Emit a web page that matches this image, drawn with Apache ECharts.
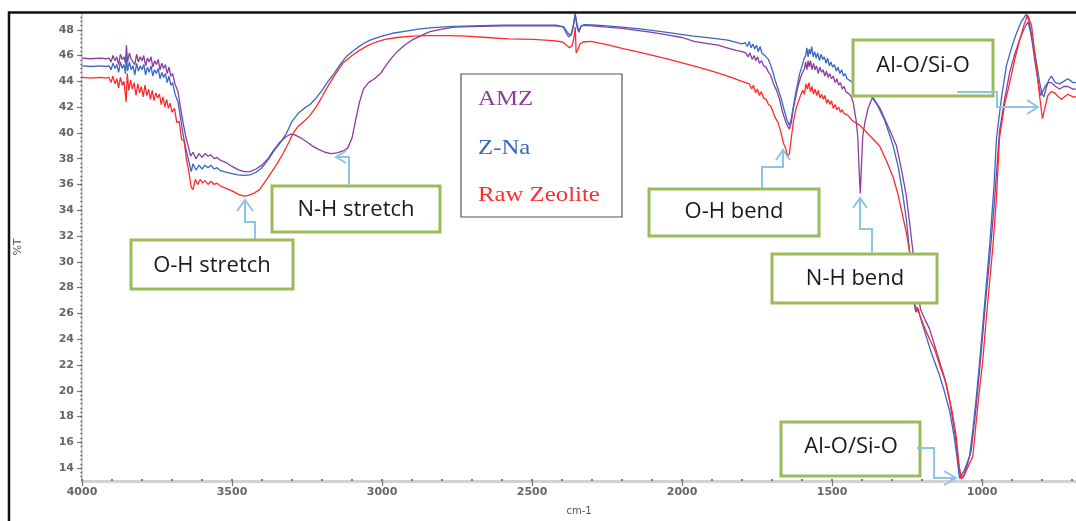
<!DOCTYPE html>
<html>
<head>
<meta charset="utf-8">
<script src="https://cdn.jsdelivr.net/npm/echarts@6/dist/echarts.min.js"></script>
<style>
html,body{margin:0;padding:0;background:#fff;}
#chart{width:1076px;height:521px;}
</style>
</head>
<body>
<div id="chart"></div>
<script>
// ---- data (wavenumber cm-1, %T) ----
const seriesNames = ['AMZ', 'Z-Na', 'Raw Zeolite'];
const xTickLabels = [1000, 1500, 2000, 2500, 3000, 3500, 4000];
const yTickLabels = [14,16,18,20,22,24,26,28,30,32,34,36,38,40,42,44,46,48];

const amzData = [
[4000,45.8],[3970,45.75],[3940,45.8],[3920,45.75],[3910,45.8],[3903,45.5],[3897,46.0],[3890,45.6],[3884,45.9],[3878,45.3],[3872,46.1],[3866,45.7],[3860,45.9],[3855,45.4],[3852,46.8],[3848,45.5],[3842,46.2],[3836,45.7],[3830,45.8],[3824,45.3],[3818,46.1],[3812,45.5],[3806,45.9],[3800,45.6],[3794,46.0],[3788,45.2],[3782,45.8],[3776,45.5],[3770,45.9],[3764,45.1],[3758,45.6],[3752,45.3],[3746,45.7],[3740,44.9],[3734,45.4],[3728,45.0],[3722,45.3],[3716,44.6],[3710,45.1],[3704,44.4],[3698,44.6],[3690,43.8],[3680,43.2],[3672,42.0],[3664,40.9],[3655,39.8],[3645,38.9],[3638,38.2],[3630,38.5],[3620,38.0],[3610,38.4],[3600,38.1],[3590,38.4],[3580,38.2],[3570,38.3],[3560,38.0],[3550,38.1],[3540,37.9],[3520,37.7],[3500,37.4],[3480,37.15],[3460,37.0],[3440,37.0],[3420,37.2],[3400,37.5],[3380,38.0],[3360,38.7],[3340,39.3],[3320,39.7],[3305,39.9],[3290,39.85],[3270,39.6],[3250,39.3],[3230,38.95],[3210,38.7],[3190,38.5],[3170,38.4],[3150,38.45],[3130,38.6],[3115,38.8],[3100,39.6],[3088,41.0],[3075,42.4],[3062,43.4],[3045,43.9],[3025,44.2],[3005,44.6],[2985,45.3],[2965,45.9],[2945,46.4],[2925,46.8],[2900,47.2],[2870,47.55],[2840,47.85],[2800,48.05],[2760,48.2],[2700,48.25],[2600,48.3],[2500,48.32],[2420,48.3],[2395,48.25],[2385,47.9],[2375,47.6],[2368,47.7],[2362,48.3],[2356,49.2],[2350,48.4],[2344,47.9],[2336,48.3],[2325,48.35],[2300,48.3],[2250,48.2],[2200,48.1],[2150,47.95],[2100,47.8],[2050,47.6],[2000,47.4],[1960,47.1],[1920,46.95],[1880,46.8],[1850,46.6],[1820,46.4],[1800,46.3],[1788,46.2],[1780,45.9],[1774,46.2],[1766,45.7],[1760,46.0],[1754,45.6],[1748,45.9],[1742,45.4],[1735,45.6],[1728,45.2],[1720,45.1],[1712,44.7],[1705,44.5],[1695,43.8],[1685,43.3],[1675,42.6],[1665,41.6],[1655,40.9],[1648,40.5],[1642,40.3],[1636,40.8],[1630,41.8],[1622,42.7],[1615,43.5],[1605,44.3],[1598,44.7],[1592,45.0],[1588,45.5],[1584,44.9],[1580,45.6],[1576,45.1],[1572,45.6],[1567,44.9],[1562,45.4],[1557,44.9],[1552,45.2],[1546,44.6],[1541,45.1],[1535,44.7],[1530,44.9],[1524,44.4],[1519,44.8],[1513,44.3],[1508,44.6],[1502,44.2],[1496,44.4],[1490,43.9],[1484,44.2],[1478,43.7],[1472,43.9],[1466,43.4],[1460,43.6],[1454,43.2],[1448,43.3],[1442,43.0],[1436,42.8],[1430,42.4],[1420,41.0],[1414,39.6],[1410,37.2],[1406,35.3],[1402,37.5],[1398,39.7],[1390,40.9],[1380,41.9],[1370,42.5],[1364,42.75],[1340,41.9],[1315,40.6],[1286,39.05],[1270,37.3],[1253,35.2],[1242,33.1],[1231,30.9],[1222,28.5],[1214,26.8],[1210,27.0],[1205,26.3],[1190,25.5],[1175,24.8],[1150,22.9],[1125,21.0],[1108,19.2],[1092,16.9],[1082,15.0],[1075,13.7],[1071,13.2],[1060,13.5],[1050,14.2],[1036,15.4],[1020,18.7],[1003,23.0],[990,26.5],[975,30.2],[960,34.3],[942,40.1],[925,42.6],[908,44.7],[890,46.2],[875,47.2],[860,48.1],[847,48.6],[840,48.0],[832,46.9],[825,45.7],[815,44.2],[805,42.9],[798,43.2],[790,43.6],[780,43.9],[769,43.9],[755,43.6],[742,43.4],[728,43.6],[714,43.6],[697,43.4],[687,43.4]
];

const znaData = [
[4000,45.2],[3970,45.15],[3940,45.2],[3920,45.15],[3910,45.2],[3903,44.9],[3897,45.4],[3890,45.0],[3884,45.3],[3878,44.7],[3872,45.5],[3866,45.0],[3860,45.3],[3855,44.6],[3852,46.0],[3848,44.8],[3842,45.5],[3836,44.9],[3830,45.2],[3824,44.5],[3818,45.4],[3812,44.8],[3806,45.2],[3800,44.9],[3794,45.3],[3788,44.5],[3782,45.1],[3776,44.7],[3770,45.2],[3764,44.4],[3758,44.9],[3752,44.6],[3746,45.0],[3740,44.2],[3734,44.7],[3728,44.3],[3722,44.6],[3716,43.9],[3710,44.4],[3704,43.7],[3698,43.9],[3690,43.0],[3680,42.4],[3672,41.2],[3664,40.0],[3655,38.9],[3645,37.9],[3636,37.0],[3630,37.6],[3620,37.1],[3610,37.5],[3600,37.2],[3590,37.5],[3580,37.3],[3570,37.5],[3560,37.2],[3550,37.3],[3540,37.1],[3520,36.95],[3500,36.85],[3480,36.75],[3460,36.7],[3440,36.75],[3420,36.95],[3400,37.3],[3380,37.9],[3360,38.6],[3340,39.2],[3320,39.9],[3300,40.9],[3280,41.5],[3260,41.9],[3240,42.2],[3220,42.7],[3200,43.3],[3180,44.0],[3160,44.6],[3140,45.3],[3120,45.9],[3100,46.3],[3080,46.65],[3060,46.95],[3040,47.2],[3000,47.5],[2960,47.75],[2920,47.9],[2880,48.05],[2840,48.15],[2780,48.25],[2700,48.3],[2600,48.35],[2500,48.35],[2420,48.35],[2395,48.2],[2385,47.7],[2378,47.45],[2370,47.6],[2362,48.4],[2356,49.25],[2350,48.2],[2344,47.8],[2336,48.3],[2325,48.4],[2300,48.37],[2250,48.3],[2200,48.2],[2133,48.05],[2050,47.8],[1962,47.5],[1900,47.35],[1848,47.2],[1800,46.9],[1790,47.0],[1782,46.7],[1776,47.1],[1770,46.6],[1764,46.9],[1758,46.5],[1752,46.8],[1746,46.3],[1740,46.7],[1734,46.2],[1728,46.3],[1720,45.9],[1712,45.7],[1704,45.2],[1698,44.8],[1690,44.1],[1680,43.4],[1670,42.7],[1660,41.8],[1650,41.0],[1643,40.6],[1637,41.0],[1630,41.9],[1622,43.0],[1615,43.8],[1608,44.6],[1600,45.2],[1594,45.7],[1588,46.0],[1584,46.6],[1580,45.9],[1576,46.5],[1572,46.1],[1568,46.7],[1563,45.9],[1558,46.3],[1553,45.8],[1548,46.2],[1542,45.6],[1537,46.1],[1531,45.7],[1526,45.9],[1520,45.4],[1515,45.8],[1509,45.2],[1504,45.5],[1498,45.1],[1492,45.3],[1486,44.8],[1480,45.1],[1474,44.6],[1468,44.9],[1462,44.4],[1456,44.6],[1450,44.2],[1444,44.3],[1430,43.9],[1410,43.6],[1390,43.3],[1375,43.0],[1350,42.2],[1325,41.0],[1297,39.05],[1280,37.4],[1264,35.2],[1252,33.2],[1242,30.9],[1233,28.6],[1225,26.6],[1221,26.1],[1217,26.5],[1212,26.2],[1198,25.1],[1170,23.0],[1142,21.2],[1125,19.9],[1108,18.4],[1092,16.3],[1083,14.7],[1078,13.7],[1075,13.2],[1070,13.3],[1060,13.8],[1050,14.4],[1042,14.9],[1030,17.1],[1018,19.8],[1008,22.3],[992,26.6],[975,31.2],[960,36.0],[952,39.6],[935,42.8],[919,45.2],[902,46.6],[886,47.7],[870,48.6],[853,49.2],[845,48.8],[838,48.0],[832,47.2],[820,45.6],[808,43.9],[800,43.0],[794,42.8],[786,43.5],[778,44.1],[769,44.4],[756,43.9],[742,43.8],[728,44.0],[714,44.2],[697,43.9],[687,43.9]
];

const rawData = [
[4000,44.3],[3970,44.25],[3940,44.3],[3920,44.25],[3910,44.3],[3903,43.9],[3897,44.4],[3890,43.8],[3884,44.2],[3878,43.5],[3872,44.3],[3866,43.7],[3860,44.0],[3856,43.1],[3853,42.4],[3849,44.6],[3844,43.3],[3838,44.1],[3832,43.4],[3826,43.9],[3820,42.9],[3814,43.8],[3808,43.1],[3802,43.6],[3796,42.8],[3790,43.7],[3784,42.9],[3778,43.4],[3772,42.6],[3766,43.3],[3760,42.5],[3754,43.1],[3748,42.7],[3742,43.0],[3736,42.2],[3730,42.8],[3724,42.0],[3718,42.6],[3712,41.9],[3706,42.3],[3700,41.6],[3692,41.9],[3684,40.8],[3676,40.9],[3668,39.5],[3660,39.4],[3652,38.0],[3644,37.0],[3636,35.8],[3630,35.6],[3622,36.4],[3614,36.0],[3606,36.4],[3598,36.1],[3590,36.3],[3580,36.0],[3570,36.25],[3560,36.0],[3550,36.1],[3540,35.9],[3520,35.7],[3500,35.5],[3480,35.25],[3460,35.1],[3445,35.15],[3425,35.35],[3408,35.6],[3390,36.2],[3370,36.9],[3350,37.6],[3330,38.4],[3310,39.3],[3298,39.9],[3280,40.5],[3260,40.9],[3242,41.3],[3220,42.0],[3200,42.8],[3186,43.4],[3160,44.4],[3131,45.4],[3100,46.0],[3075,46.4],[3050,46.75],[3020,47.05],[2990,47.25],[2950,47.4],[2900,47.5],[2850,47.55],[2780,47.55],[2720,47.5],[2650,47.4],[2580,47.3],[2497,47.25],[2430,47.15],[2398,47.05],[2385,46.8],[2375,46.6],[2366,46.8],[2360,47.4],[2356,48.2],[2353,46.2],[2348,46.4],[2340,46.9],[2330,47.05],[2304,47.1],[2250,46.85],[2200,46.55],[2133,46.2],[2050,45.75],[1962,45.2],[1900,44.8],[1848,44.4],[1800,44.0],[1776,43.8],[1768,43.4],[1762,43.7],[1755,43.1],[1749,43.4],[1742,42.9],[1736,43.2],[1728,42.7],[1720,42.6],[1712,42.2],[1705,42.1],[1698,41.7],[1690,41.2],[1680,40.8],[1670,40.0],[1662,39.2],[1655,38.8],[1648,38.2],[1642,38.4],[1636,39.6],[1628,41.0],[1620,41.9],[1610,42.6],[1598,43.3],[1592,43.0],[1587,43.8],[1582,43.4],[1577,43.9],[1572,43.2],[1567,43.6],[1562,43.0],[1557,43.4],[1551,42.9],[1546,43.3],[1540,42.7],[1535,43.0],[1529,42.6],[1524,42.9],[1518,42.3],[1513,42.6],[1507,42.2],[1502,42.5],[1496,41.9],[1490,42.2],[1484,41.8],[1478,42.0],[1472,41.6],[1466,41.8],[1460,41.5],[1449,41.4],[1430,40.9],[1408,40.6],[1375,39.8],[1342,39.0],[1320,37.9],[1297,36.6],[1280,35.2],[1264,33.5],[1252,32.2],[1242,30.8],[1235,29.2],[1228,27.6],[1222,26.4],[1218,26.1],[1214,26.4],[1208,25.9],[1190,24.8],[1175,24.0],[1158,23.2],[1140,21.9],[1119,20.5],[1100,18.4],[1086,16.4],[1077,14.3],[1069,13.15],[1060,13.4],[1045,14.2],[1031,14.9],[1020,17.5],[1010,19.8],[998,22.3],[985,25.9],[964,31.2],[952,35.0],[942,39.6],[925,42.2],[908,43.9],[890,45.8],[875,47.2],[860,48.4],[848,49.15],[844,49.2],[835,48.3],[826,46.5],[819,45.2],[810,43.2],[799,41.1],[790,42.0],[781,42.9],[770,43.2],[758,43.1],[746,42.8],[736,42.6],[725,42.8],[714,43.0],[697,42.8],[687,42.8]
];

const seriesColors = ['#8c3c9e', '#3a67c0', '#ff2b2b'];

// minor tick positions (axis decoration)
const xMinor = [];
for (let v = 700; v <= 4000; v += 100) xMinor.push(v);
const yMinor = [];
for (let k = 40; k <= 147; k++) yMinor.push(+(k / 3).toFixed(4));

const chart = echarts.init(document.getElementById('chart'), null, {renderer: 'canvas'});

const labelFont = {fontFamily: 'DejaVu Sans', fontSize: 11, fontWeight: 'bold', color: '#666'};

function box(x, y, w, h, label, tx, ty) {
  return [
    {type: 'rect', z: 100, shape: {x: x, y: y, width: w, height: h},
     style: {fill: '#fff', stroke: '#9bbb59', lineWidth: 3}},
    {type: 'text', z: 101, style: {text: label, x: tx, y: ty, fill: '#1a1a1a',
     font: '22px "Open Sans"', align: 'center', verticalAlign: 'middle'}}
  ];
}
function arrow(points, head) {
  return [
    {type: 'polyline', z: 102, shape: {points: points}, style: {stroke: '#8ec5e6', lineWidth: 2, fill: null}},
    {type: 'polyline', z: 102, shape: {points: head}, style: {stroke: '#8ec5e6', lineWidth: 2, fill: null}}
  ];
}

const graphics = [].concat(
  [{type: 'polyline', z: 90, shape: {points: [[9, 530], [9, 12.5], [1090, 12.5]]},
    style: {stroke: '#111', lineWidth: 2.5, fill: null}}],
  [{type: 'rect', z: 100, shape: {x: 461, y: 74, width: 161, height: 143},
    style: {fill: '#fff', stroke: '#555', lineWidth: 1.2}},
   {type: 'text', z: 101, x: 478, y: 99, scaleX: 1.18, style: {text: seriesNames[0], x: 0, y: 0, fill: seriesColors[0], font: '21px "Liberation Serif"', verticalAlign: 'middle'}},
   {type: 'text', z: 101, x: 478, y: 148, scaleX: 1.18, style: {text: seriesNames[1], x: 0, y: 0, fill: seriesColors[1], font: '21px "Liberation Serif"', verticalAlign: 'middle'}},
   {type: 'text', z: 101, x: 478, y: 195, scaleX: 1.18, style: {text: seriesNames[2], x: 0, y: 0, fill: seriesColors[2], font: '21px "Liberation Serif"', verticalAlign: 'middle'}}],
  box(131, 240, 162, 49, 'O-H stretch', 212, 266),
  box(272, 186, 168, 46, 'N-H stretch', 356, 210),
  box(649, 189, 170, 47, 'O-H bend', 734, 212),
  box(853, 40, 140, 56, 'Al-O/Si-O', 923, 66),
  box(772, 254, 165, 49, 'N-H bend', 855, 279),
  box(781, 422, 139, 54, 'Al-O/Si-O', 851, 447),
  arrow([[255, 239], [255, 222], [245, 222], [245, 200]], [[237, 211], [245, 200], [253, 211]]),
  arrow([[349, 185], [349, 157], [336, 157]], [[346, 151], [336, 157], [346, 163]]),
  arrow([[762, 188], [762, 167], [783, 167], [783, 150]], [[776, 160], [783, 150], [790, 160]]),
  arrow([[872, 253], [872, 229], [860, 229], [860, 198]], [[853, 208], [860, 198], [867, 208]]),
  arrow([[957, 92], [997, 92], [997, 107], [1038, 107]], [[1027, 100], [1038, 107], [1027, 114]]),
  arrow([[917, 448], [934, 448], [934, 478], [956, 478]], [[944, 471], [956, 478], [944, 485]])
);

const xCommon = {type: 'value', min: 687, max: 4000, inverse: true, position: 'bottom', splitLine: {show: false}};
const yCommon = {type: 'value', min: 13, max: 49.3, position: 'left', splitLine: {show: false}};
const plainNum = function (v) { return String(v); };

const option = {
  animation: false,
  backgroundColor: '#fff',
  grid: {left: 82, right: 0, top: 13, bottom: 33, containLabel: false},
  xAxis: [
    Object.assign({}, xCommon, {
      name: 'cm-1', nameLocation: 'middle', nameGap: 25,
      nameTextStyle: {fontFamily: 'DejaVu Sans', fontSize: 10, color: '#555'},
      axisLine: {show: true, lineStyle: {color: '#d2d2d2', width: 3}},
      axisTick: {show: true, customValues: xTickLabels, length: 5, inside: false, lineStyle: {color: '#777', width: 1.2}},
      axisLabel: Object.assign({customValues: xTickLabels, margin: 6, formatter: plainNum}, labelFont)
    }),
    Object.assign({}, xCommon, {
      axisLine: {show: false},
      axisTick: {show: true, customValues: xMinor, length: 2, inside: true, lineStyle: {color: '#555', width: 1.5}},
      axisLabel: {show: false}
    })
  ],
  yAxis: [
    Object.assign({}, yCommon, {
      name: '%T', nameLocation: 'middle', nameGap: 58, nameRotate: 90,
      nameTextStyle: {fontFamily: 'DejaVu Sans', fontSize: 11, color: '#555'},
      axisLine: {show: true, lineStyle: {color: '#d2d2d2', width: 2}},
      axisTick: {show: true, customValues: yTickLabels, length: 5, inside: false, lineStyle: {color: '#777', width: 1.2}},
      axisLabel: Object.assign({customValues: yTickLabels, margin: 8, formatter: plainNum}, labelFont)
    }),
    Object.assign({}, yCommon, {
      axisLine: {show: false},
      axisTick: {show: true, customValues: yMinor, length: 1.5, inside: false, lineStyle: {color: '#555', width: 1.3}},
      axisLabel: {show: false}
    })
  ],
  series: [
    {name: seriesNames[0], type: 'line', data: amzData, showSymbol: false, symbol: 'none', lineStyle: {color: seriesColors[0], width: 1.3}, itemStyle: {color: seriesColors[0]}, z: 3},
    {name: seriesNames[1], type: 'line', data: znaData, showSymbol: false, symbol: 'none', lineStyle: {color: seriesColors[1], width: 1.3}, itemStyle: {color: seriesColors[1]}, z: 4},
    {name: seriesNames[2], type: 'line', data: rawData, showSymbol: false, symbol: 'none', lineStyle: {color: seriesColors[2], width: 1.3}, itemStyle: {color: seriesColors[2]}, z: 5}
  ],
  graphic: {elements: graphics}
};
chart.setOption(option);
</script>
</body>
</html>
